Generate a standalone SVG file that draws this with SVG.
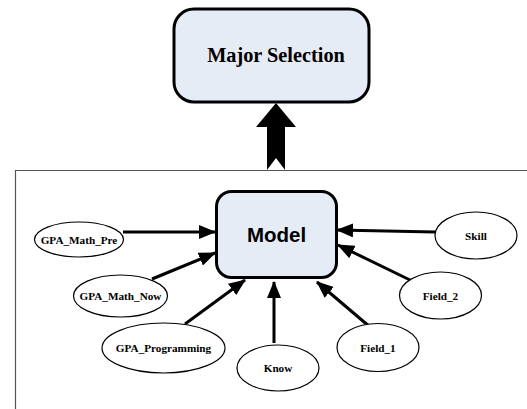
<svg xmlns="http://www.w3.org/2000/svg" width="527" height="409" viewBox="0 0 527 409">
<style>
.ell{fill:#fff;stroke:#000;stroke-width:1.2}
.lbl{font-family:"Liberation Serif",serif;font-weight:bold;font-size:11.2px;text-anchor:middle;dominant-baseline:central}
.con{stroke:#000;stroke-width:3;fill:none;marker-end:url(#ah)}
</style>
<defs>
<marker id="ah" markerUnits="userSpaceOnUse" markerWidth="17" markerHeight="14" refX="16" refY="7" orient="auto">
<path d="M0,0 L17,7 L0,14 Z" fill="#000"/>
</marker>
</defs>
<rect width="527" height="409" fill="#fff"/>
<g id="frame">
<path d="M15.5,409 V170.5 H527" fill="none" stroke="#555" stroke-width="1.2"/>
</g>
<g id="major">
<rect x="174" y="9" width="195" height="93" rx="20" fill="#e6ecf6" stroke="#000" stroke-width="3"/>
<text x="276" y="54.5" font-family="'Liberation Serif',serif" font-weight="bold" font-size="20.3" text-anchor="middle" dominant-baseline="central">Major Selection</text>
</g>
<g id="connectors">
<polygon points="276,103 296,127 285,127 285,170 276,158 267,170 267,127 256,127" fill="#000"/>
<line class="con" x1="123" y1="232" x2="215" y2="232"/>
<line class="con" x1="152" y1="279" x2="215" y2="253"/>
<line class="con" x1="185" y1="324" x2="245" y2="280"/>
<line class="con" x1="274" y1="343" x2="274" y2="282"/>
<line class="con" x1="370" y1="327" x2="317" y2="282"/>
<line class="con" x1="410" y1="280" x2="338" y2="245"/>
<line class="con" x1="435" y1="232" x2="337" y2="230"/>
</g>
<g id="model">
<rect x="216.5" y="191.5" width="120" height="86" rx="15" fill="#e6ecf6" stroke="#000" stroke-width="3"/>
<text x="276.5" y="234.5" font-family="'Liberation Sans',Arial,sans-serif" font-weight="bold" font-size="20.5" text-anchor="middle" dominant-baseline="central">Model</text>
</g>
<g id="gpa_math_pre"><ellipse class="ell" cx="79" cy="239.5" rx="44.5" ry="17.5"/><text class="lbl" x="79" y="239.5">GPA_Math_Pre</text></g>
<g id="gpa_math_now"><ellipse class="ell" cx="120.5" cy="296" rx="47" ry="21"/><text class="lbl" x="120.5" y="296">GPA_Math_Now</text></g>
<g id="gpa_programming"><ellipse class="ell" cx="163.5" cy="348" rx="61.5" ry="25"/><text class="lbl" x="163.5" y="348">GPA_Programming</text></g>
<g id="know"><ellipse class="ell" cx="278" cy="368" rx="41" ry="23"/><text class="lbl" x="278" y="368">Know</text></g>
<g id="field_1"><ellipse class="ell" cx="378" cy="347.5" rx="41" ry="24"/><text class="lbl" x="378" y="347.5">Field_1</text></g>
<g id="field_2"><ellipse class="ell" cx="440.5" cy="295.5" rx="41" ry="23.5"/><text class="lbl" x="440.5" y="295.5">Field_2</text></g>
<g id="skill"><ellipse class="ell" cx="476" cy="235.5" rx="41" ry="23.5"/><text class="lbl" x="476" y="235.5">Skill</text></g>
</svg>
